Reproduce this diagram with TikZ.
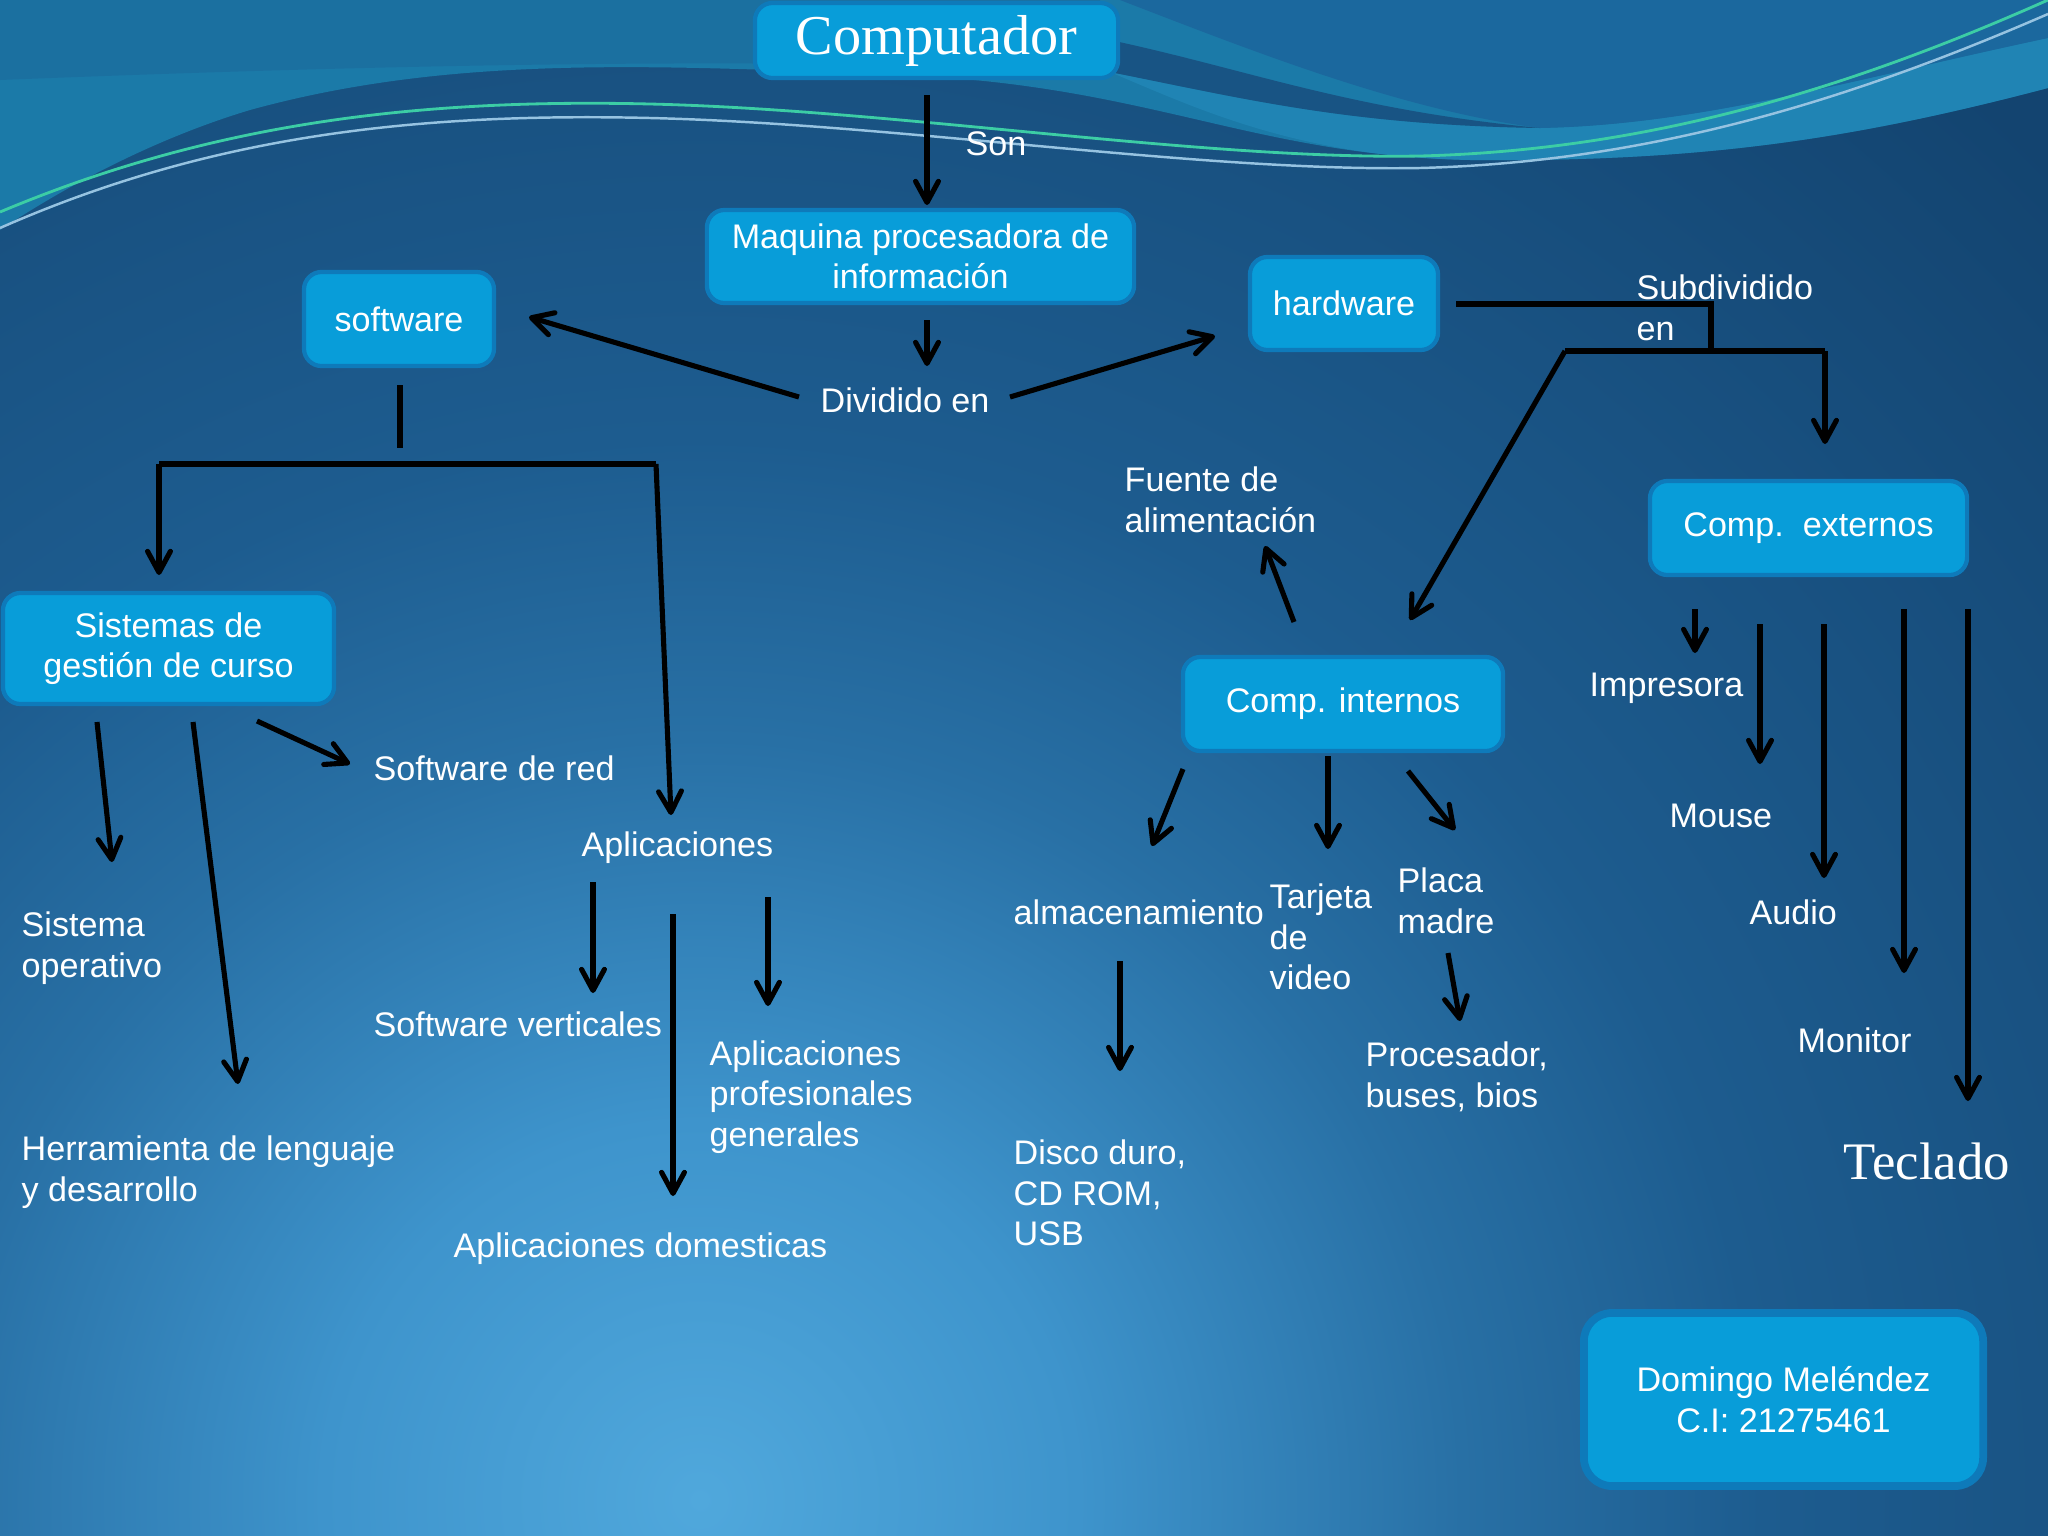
\documentclass[tikz,border=0pt]{standalone}
\usepackage{fontspec}
\setmainfont{Liberation Sans}
\newfontfamily\serifx{Liberation Serif}
\usetikzlibrary{arrows.meta}
\definecolor{bgA}{RGB}{80,168,220}
\definecolor{bgOne}{RGB}{62,148,204}
\definecolor{bgTwo}{RGB}{40,112,165}
\definecolor{bgThree}{RGB}{29,92,143}
\definecolor{bgC}{RGB}{19,68,112}
\definecolor{teal1}{RGB}{27,122,168}
\definecolor{tealtop}{RGB}{27,108,158}
\definecolor{trblue}{RGB}{27,104,158}
\definecolor{tlight}{RGB}{36,140,188}
\definecolor{rib}{RGB}{24,84,132}
\definecolor{boxfill}{RGB}{8,157,217}
\definecolor{boxedge}{RGB}{14,122,186}
\definecolor{wgreen}{RGB}{60,205,165}
\definecolor{wpale}{RGB}{150,195,225}
\pgfdeclareradialshading{bgs}{\pgfpoint{0bp}{0bp}}{color(0bp)=(bgA); color(6.3bp)=(bgOne); color(12.7bp)=(bgTwo); color(17.7bp)=(bgThree); color(31.7bp)=(bgC); color(50bp)=(bgC)}
\begin{document}
\begin{tikzpicture}[x=0.01cm,y=-0.01cm,
 box/.style={fill=boxfill, draw=boxedge, line width=1.2pt, rounded corners=5pt, text=white, align=center, inner sep=0pt, font=\fontsize{9.7}{11.5}\selectfont},
 lbl/.style={text=white, align=left, anchor=west, inner sep=0pt, font=\fontsize{9.7}{11.5}\selectfont},
 arr/.style={line width=1.45pt, line join=miter, -{Straight Barb[length=6pt,width=6.5pt,round]}},
 ln/.style={line width=1.45pt, line join=miter}]
\useasboundingbox (0,0) rectangle (2048,1536);
% background
\begin{scope}
\clip (0,0) rectangle (2048,1536);
\fill[bgC] (0,0) rectangle (2048,1536);
\shade[shading=bgs] (-800,0) rectangle (2200,3000);
% top wave
\fill[teal1] (0,0) -- (2048,0) -- (2048,88) .. controls (1850,140) and (1700,162) .. (1470,160)
  .. controls (1250,155) and (1150,85) .. (900,75) .. controls (650,65) and (450,55) .. (250,110)
  .. controls (150,140) and (60,190) .. (0,230) -- cycle;
\fill[tlight, opacity=0.6] (1110,72) .. controls (1250,100) and (1350,125) .. (1540,128)
  .. controls (1700,125) and (1850,80) .. (2048,38) -- (2048,88) .. controls (1850,140) and (1700,162) .. (1470,160)
  .. controls (1300,157) and (1200,110) .. (1110,72) -- cycle;
\fill[tealtop, opacity=0.7] (0,0) -- (1100,0) -- (1100,70) .. controls (800,60) and (500,60) .. (0,80) -- cycle;
\fill[trblue] (1120,0) -- (2048,0) -- (2048,38) .. controls (1850,80) and (1700,125) .. (1540,128)
  .. controls (1400,110) and (1250,50) .. (1120,0) -- cycle;
\fill[rib] (1110,40) .. controls (1250,70) and (1350,110) .. (1540,128)
  .. controls (1350,125) and (1250,100) .. (1110,72) -- cycle;
\draw[wpale, line width=0.7pt] (0,228) .. controls (200,140) and (400,112) .. (650,118)
  .. controls (900,124) and (1200,172) .. (1420,168) .. controls (1650,162) and (1850,100) .. (2048,14);
\draw[wgreen, line width=0.8pt] (0,212) .. controls (200,128) and (400,98) .. (650,104)
  .. controls (900,110) and (1200,160) .. (1420,156) .. controls (1650,150) and (1850,88) .. (2048,0);
\end{scope}
% boxes
\node[box, minimum width=3.63cm, minimum height=0.75cm, font=\serifx\fontsize{16}{19}\selectfont] (comp) at (936.5,40.5) {Computador};
\node[box, minimum width=4.27cm, minimum height=0.93cm] (maq) at (920.5,256.5) {Maquina procesadora de\\información};
\node[box, minimum width=1.90cm, minimum height=0.94cm] (soft) at (399,319) {software};
\node[box, minimum width=1.88cm, minimum height=0.93cm] (hard) at (1344,303.5) {hardware};
\node[box, minimum width=3.17cm, minimum height=0.94cm] (ext) at (1808.5,528) {Comp.\ \ externos};
\node[box, minimum width=3.31cm, minimum height=1.11cm] (sis) at (168.5,648.5) {Sistemas de\\gestión de curso};
\node[box, minimum width=3.20cm, minimum height=0.94cm] (int) at (1343,704) {Comp. internos};
\node[box, minimum width=3.99cm, minimum height=1.73cm, line width=2.2pt, rounded corners=8pt] (dom) at (1783.5,1399.5) {Domingo Meléndez\\C.I: 21275461};
% labels
\node[lbl] (son) at (965,144) {Son};
\node[lbl] (div) at (820,400) {Dividido en};
\node[lbl] (sub) at (1636,308) {Subdividido\\en};
\node[lbl] (fue) at (1124,500) {Fuente de\\alimentación};
\node[lbl] (red) at (373,768) {Software de red};
\node[lbl] (apl) at (581,848) {Aplicaciones};
\node[lbl] (so) at (21,948) {Sistema\\operativo};
\node[lbl] (sv) at (373,1024) {Software verticales};
\node[lbl] (apg) at (709,1097) {Aplicaciones\\profesionales\\generales};
\node[lbl] (her) at (21,1172) {Herramienta de lenguaje\\y desarrollo};
\node[lbl] (apd) at (453,1249) {Aplicaciones domesticas};
\node[lbl] (alm) at (1013,912) {almacenamiento};
\node[lbl] (tar) at (1269,937) {Tarjeta\\de\\video};
\node[lbl] (pla) at (1397,901) {Placa\\madre};
\node[lbl] (dis) at (1013,1193) {Disco duro,\\CD ROM,\\USB};
\node[lbl] (pro) at (1365,1077) {Procesador,\\buses, bios};
\node[lbl] (imp) at (1589,688) {Impresora};
\node[lbl] (mou) at (1669,816) {Mouse};
\node[lbl] (aud) at (1749,912) {Audio};
\node[lbl] (mon) at (1797,1040) {Monitor};
\node[lbl, font=\serifx\fontsize{15}{18}\selectfont] (tec) at (1843,1161) {Teclado};
% connector end points
\coordinate (c1a) at (927,95);   \coordinate (c1b) at (927,205);
\coordinate (c2a) at (927,320);  \coordinate (c2b) at (927,366);
\coordinate (c3a) at (799,397);  \coordinate (c3b) at (529,317);
\coordinate (c4a) at (1010,397); \coordinate (c4b) at (1215,336);
\coordinate (s0) at (400,385);   \coordinate (s1) at (400,448);
\coordinate (s2) at (159,464);   \coordinate (s3) at (656,464);
\coordinate (s4) at (159,575);   \coordinate (s5) at (671,815);
\coordinate (g1a) at (97,722);   \coordinate (g1b) at (112,862);
\coordinate (g2a) at (193,722);  \coordinate (g2b) at (238,1084);
\coordinate (g3a) at (257,721);  \coordinate (g3b) at (350,764);
\coordinate (p1a) at (593,882);  \coordinate (p1b) at (593,993);
\coordinate (p2a) at (673,914);  \coordinate (p2b) at (673,1196);
\coordinate (p3a) at (768,897);  \coordinate (p3b) at (768,1006);
\coordinate (h0) at (1456,304);  \coordinate (h1) at (1711,304);
\coordinate (h2) at (1711,351);  \coordinate (h3) at (1565,351);
\coordinate (h4) at (1825,351);  \coordinate (h5) at (1825,444);
\coordinate (h6) at (1410,620);
\coordinate (i1a) at (1294,622); \coordinate (i1b) at (1265,546);
\coordinate (i2a) at (1183,769); \coordinate (i2b) at (1152,846);
\coordinate (i3a) at (1328,756); \coordinate (i3b) at (1328,849);
\coordinate (i4a) at (1408,771); \coordinate (i4b) at (1455,830);
\coordinate (i5a) at (1120,961); \coordinate (i5b) at (1120,1071);
\coordinate (i6a) at (1448,953); \coordinate (i6b) at (1460,1021);
\coordinate (e1a) at (1695,609); \coordinate (e1b) at (1695,653);
\coordinate (e2a) at (1760,624); \coordinate (e2b) at (1760,764);
\coordinate (e3a) at (1824,624); \coordinate (e3b) at (1824,878);
\coordinate (e4a) at (1904,609); \coordinate (e4b) at (1904,973);
\coordinate (e5a) at (1968,609); \coordinate (e5b) at (1968,1101);
% connectors
\draw[arr] (c1a) -- (c1b);
\draw[arr] (c2a) -- (c2b);
\draw[arr] (c3a) -- (c3b);
\draw[arr] (c4a) -- (c4b);
\draw[ln] (s0) -- (s1);
\draw[ln] (s2) -- (s3);
\draw[arr] (s2) -- (s4);
\draw[arr] (s3) -- (s5);
\draw[arr] (g1a) -- (g1b);
\draw[arr] (g2a) -- (g2b);
\draw[arr] (g3a) -- (g3b);
\draw[arr] (p1a) -- (p1b);
\draw[arr] (p2a) -- (p2b);
\draw[arr] (p3a) -- (p3b);
\draw[ln] (h0) -- (h1) -- (h2);
\draw[ln] (h3) -- (h4);
\draw[arr] (h4) -- (h5);
\draw[arr] (h3) -- (h6);
\draw[arr] (i1a) -- (i1b);
\draw[arr] (i2a) -- (i2b);
\draw[arr] (i3a) -- (i3b);
\draw[arr] (i4a) -- (i4b);
\draw[arr] (i5a) -- (i5b);
\draw[arr] (i6a) -- (i6b);
\draw[arr] (e1a) -- (e1b);
\draw[arr] (e2a) -- (e2b);
\draw[arr] (e3a) -- (e3b);
\draw[arr] (e4a) -- (e4b);
\draw[arr] (e5a) -- (e5b);
\end{tikzpicture}
\end{document}
